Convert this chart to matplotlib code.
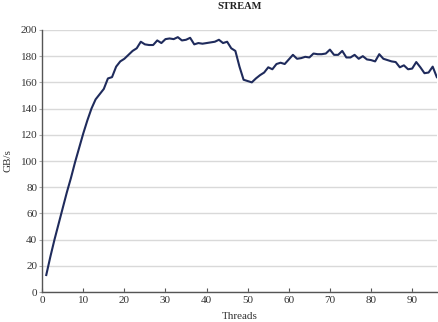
import matplotlib
matplotlib.use("Agg")
import matplotlib.pyplot as plt

# STREAM bandwidth vs thread count
threads = list(range(1, 97))
bandwidth = [
    13, 27, 40, 52, 64, 76, 87, 99, 110, 121,
    131, 140, 147, 151, 155, 163, 164, 172, 176, 178,
    181, 184, 186, 191, 189, 188.5, 188.5, 192, 190, 193,
    193.5, 193, 194.5, 192, 192.5, 194, 189, 190, 189.5, 190,
    190.5, 191, 192.5, 190, 191, 186, 184, 172, 162, 161,
    160, 163, 165.5, 167.5, 171.5, 170, 174, 175, 174, 177.5,
    181, 178, 178.5, 179.5, 179, 182, 181.5, 181.5, 182, 185,
    181, 181, 184, 179, 179, 181, 178, 180, 177.5, 177,
    176, 181.5, 178, 177, 176, 175.5, 171.5, 173, 170, 170.5,
    175.5, 171.5, 167, 167.5, 172, 164,
]
xticks = [0, 10, 20, 30, 40, 50, 60, 70, 80, 90]
yticks = [0, 20, 40, 60, 80, 100, 120, 140, 160, 180, 200]

plt.rcParams["font.family"] = ["Liberation Serif", "DejaVu Serif"]

fig = plt.figure(figsize=(4.39, 3.22), dpi=100)
ax = fig.add_axes([0.096, 0.093, 0.899, 0.814])

ax.plot(threads, bandwidth, color="#1f2b5c", linewidth=1.5)

ax.set_xlim(0, 96)
ax.set_ylim(0, 200)
ax.set_xticks(xticks)
ax.set_yticks(yticks)
ax.grid(axis="y", color="#d9d9d9", linewidth=1.0)
ax.set_axisbelow(True)

for side in ("top", "right"):
    ax.spines[side].set_visible(False)
for side in ("left", "bottom"):
    ax.spines[side].set_color("#555555")
    ax.spines[side].set_linewidth(1.0)

ax.tick_params(axis="x", direction="in", length=3, color="#555555",
               labelsize=8, pad=3, labelcolor="#333333")
ax.tick_params(axis="y", direction="out", length=2, color="#aaaaaa",
               labelsize=8, pad=1.5, labelcolor="#333333")

ax.set_xlabel("Threads", fontsize=8, color="#333333", labelpad=5)
ax.set_ylabel("GB/s", fontsize=8, color="#333333", labelpad=6)
ax.set_title("STREAM", fontsize=7.5, fontweight="bold", color="#222222", pad=15)

fig.savefig("out.png", dpi=100)
